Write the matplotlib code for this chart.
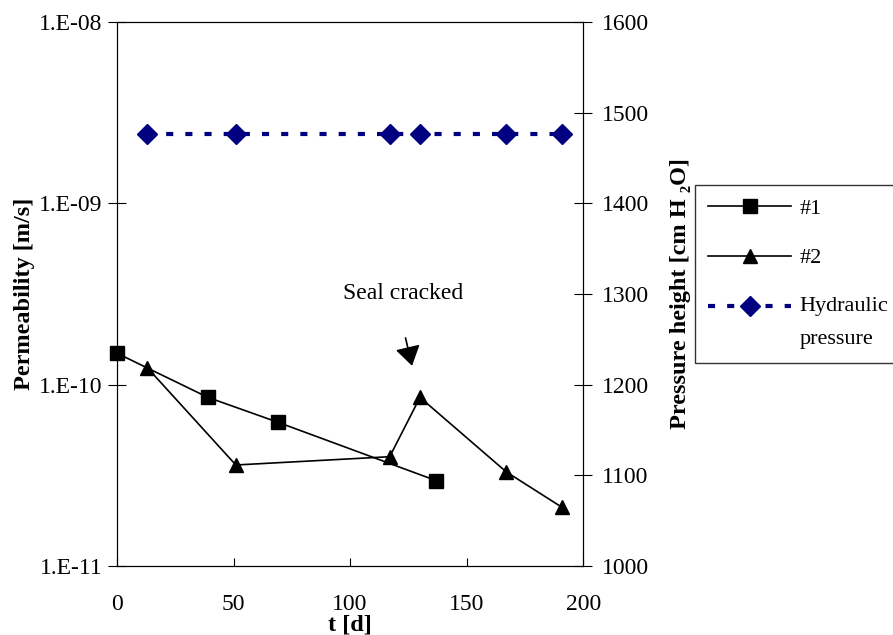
import matplotlib
matplotlib.use("Agg")
import numpy as np
import matplotlib.pyplot as plt
from matplotlib.ticker import FixedLocator, NullLocator, FixedFormatter

plt.rcParams['font.family'] = ['Liberation Serif', 'DejaVu Serif']
plt.rcParams['font.size'] = 17

# Data
t1 = [0, 39, 69, 137]
k1 = [1.49e-10, 8.5e-11, 6.2e-11, 2.95e-11]
t2 = [13, 51, 117, 130, 167, 191]
k2 = [1.24e-10, 3.6e-11, 4.0e-11, 8.5e-11, 3.3e-11, 2.1e-11]
tp = [13, 51, 117, 130, 167, 191]
p = [1477, 1477, 1477, 1477, 1477, 1477]
yticks_left = [1e-11, 1e-10, 1e-9, 1e-8]
ylabels_left = ['1.E-11', '1.E-10', '1.E-09', '1.E-08']
xticks = [0, 50, 100, 150, 200]
yticks_right = [1000, 1100, 1200, 1300, 1400, 1500, 1600]

fig = plt.figure(figsize=(8.93, 6.35), dpi=100)
ax = fig.add_axes([0.131, 0.109, 0.522, 0.856])
ax2 = ax.twinx()
ax.set_zorder(ax2.get_zorder() + 1)
ax.patch.set_visible(False)

l1, = ax.plot(t1, k1, color='black', lw=1.2, marker='s', markersize=10, label='#1',
              zorder=3, clip_on=False)
l2, = ax.plot(t2, k2, color='black', lw=1.2, marker='^', markersize=10, label='#2',
              zorder=3, clip_on=False)
l3, = ax2.plot(tp, p, color='#000080', lw=3, linestyle=(0, (1.7, 2.9)), marker='D',
               markersize=10, label='Hydraulic\npressure', clip_on=False)

ax.set_yscale('log')
ax.set_ylim(1e-11, 1e-8)
ax.set_xlim(0, 200)
ax.yaxis.set_major_locator(FixedLocator(yticks_left))
ax.yaxis.set_major_formatter(FixedFormatter(ylabels_left))
ax.yaxis.set_minor_locator(NullLocator())
ax.set_xticks(xticks)
ax2.set_ylim(1000, 1600)
ax2.set_yticks(yticks_right)

ax.tick_params(axis='x', direction='in', length=6, pad=20)
ax.tick_params(axis='y', direction='inout', length=13, pad=4)
ax2.tick_params(axis='y', direction='inout', length=13, pad=7)

ax.set_xlabel('t [d]', fontweight='bold', fontsize=17.5, labelpad=0)
ax.set_ylabel('Permeability [m/s]', fontweight='bold', fontsize=17.5, labelpad=3)
ax2.set_ylabel('Pressure height [cm H \u2082O]', fontweight='bold', fontsize=17.5,
               labelpad=15)

ax.text(122.7, 3.2e-10, 'Seal cracked', ha='center', va='center', fontsize=17)
ax.annotate('', xy=(126.6, 1.27e-10), xytext=(123.8, 1.81e-10),
            arrowprops=dict(arrowstyle='-|>,head_length=0.85,head_width=0.55',
                            mutation_scale=14, color='black', lw=1.2,
                            shrinkA=0, shrinkB=0))

leg = fig.legend(handles=[l1, l2, l3], loc='upper left',
                 bbox_to_anchor=(695 / 893, 1 - 185 / 635), frameon=True,
                 fancybox=False, edgecolor='black', handlelength=3.74,
                 labelspacing=1.3, borderpad=0.6, handletextpad=0.36,
                 borderaxespad=0, fontsize=16)
leg.get_frame().set_linewidth(1.0)
leg.get_texts()[2].set_linespacing(2.0)
# align the third handle with the first line of its two-line label
h3 = leg.legend_handles[2]
h3.set_ydata(np.asarray(h3.get_ydata(), dtype=float) + 11.9)

fig.savefig('out.png', dpi=100)
